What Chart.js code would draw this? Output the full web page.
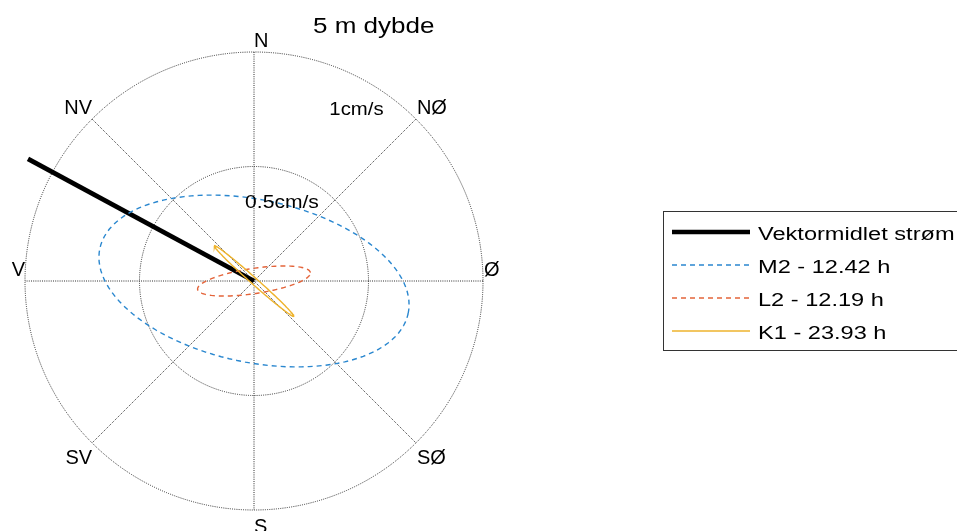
<!DOCTYPE html>
<html>
<head>
<meta charset="utf-8">
<script src="https://cdn.jsdelivr.net/npm/chart.js@4/dist/chart.umd.min.js"></script>
<style>
  html, body { margin: 0; padding: 0; background: #fff; }
</style>
</head>
<body>
<canvas id="chart" width="957" height="531"></canvas>
<script>
const titleText = "5 m dybde";
const seriesLabels = ["Vektormidlet strøm", "M2 - 12.42 h", "L2 - 12.19 h", "K1 - 23.93 h"];
// mean current vector (cm/s), east and north component
const meanEast = [0, -0.987];
const meanNorth = [0, 0.533];
// tidal ellipses: M2, L2, K1 (cm/s and degrees from east)
const semiMajor = [0.688, 0.249, 0.232];
const semiMinor = [0.355, 0.055, 0.014];
const inclination = [-11.9, 8.5, -41.6];
// grid
const ringValues = [0.5, 1];
const ringLabels = ["0.5cm/s", "1cm/s"];
const dirLabels = ["Ø", "NØ", "N", "NV", "V", "SV", "S", "SØ"];
const dirAngles = [0, 45, 90, 135, 180, 225, 270, 315];

const colors = ["#000000", "#2a87cf", "#e4643a", "#eeb32c"];
const FONT = '"Liberation Sans", Arial, sans-serif';

function ellipsePoints(a, b, incDeg) {
  var th = incDeg * Math.PI / 180;
  var pts = [];
  for (var k = 0; k <= 120; k++) {
    var t = k / 120 * 2 * Math.PI;
    var x = a * Math.cos(t), y = b * Math.sin(t);
    pts.push({ x: x * Math.cos(th) - y * Math.sin(th), y: x * Math.sin(th) + y * Math.cos(th) });
  }
  return pts;
}

// draw text, optionally stretched horizontally
function txt(ctx, s, x, y, size, sx, align) {
  ctx.save();
  ctx.font = size + "px " + FONT;
  ctx.fillStyle = "#000";
  ctx.textBaseline = "alphabetic";
  var w = ctx.measureText(s).width * sx;
  var left = align === "right" ? x - w : align === "center" ? x - w / 2 : x;
  ctx.translate(left, y);
  ctx.scale(sx, 1);
  ctx.textAlign = "left";
  ctx.fillText(s, 0, 0);
  ctx.restore();
}

const gridPlugin = {
  id: "polarGrid",
  beforeDatasetsDraw(chart) {
    var ctx = chart.ctx, xs = chart.scales.x, ys = chart.scales.y;
    var cx = xs.getPixelForValue(0), cy = ys.getPixelForValue(0);
    ctx.save();
    ctx.strokeStyle = "#2e2e2e";
    ctx.lineWidth = 1;
    ctx.setLineDash([1, 1.2]);
    ringValues.forEach(function (r) {
      ctx.beginPath();
      ctx.ellipse(cx, cy, xs.getPixelForValue(r) - cx, cy - ys.getPixelForValue(r), 0, 0, 2 * Math.PI);
      ctx.stroke();
    });
    var rMax = ringValues[ringValues.length - 1];
    for (var i = 0; i < 4; i++) {
      var a = dirAngles[i] * Math.PI / 180;
      ctx.beginPath();
      ctx.moveTo(xs.getPixelForValue(rMax * Math.cos(a)), ys.getPixelForValue(rMax * Math.sin(a)));
      ctx.lineTo(xs.getPixelForValue(-rMax * Math.cos(a)), ys.getPixelForValue(-rMax * Math.sin(a)));
      ctx.stroke();
    }
    ctx.restore();
  },
  afterDraw(chart) {
    var ctx = chart.ctx, xs = chart.scales.x, ys = chart.scales.y;
    var rMax = ringValues[ringValues.length - 1];
    // compass labels
    dirLabels.forEach(function (lab, i) {
      var a = dirAngles[i] * Math.PI / 180;
      var px = xs.getPixelForValue(rMax * Math.cos(a));
      var py = ys.getPixelForValue(rMax * Math.sin(a));
      var c = Math.round(Math.cos(a) * 100) / 100, s = Math.round(Math.sin(a) * 100) / 100;
      var align = c < -0.1 ? "right" : "left";
      var bx = c > 0.5 ? px + 1 : c < 0 && c > -0.5 ? px - 2 : px;
      var by = s < 0 ? py + (s < -0.9 ? 23 : 21) : py - 5;
      txt(ctx, lab, bx, by, 20, 1.0, align);
    });
    // ring labels
    txt(ctx, ringLabels[0], xs.getPixelForValue(-0.039), ys.getPixelForValue(0.319), 18.5, 1.14, "left");
    txt(ctx, ringLabels[1], xs.getPixelForValue(0.329), ys.getPixelForValue(0.725), 18.5, 1.1, "left");
    // title
    txt(ctx, titleText, 313, 33, 21.5, 1.21, "left");
    // legend
    ctx.save();
    ctx.fillStyle = "#fff";
    ctx.fillRect(663.5, 211.5, 400, 139);
    ctx.strokeStyle = "#333";
    ctx.lineWidth = 1;
    ctx.strokeRect(663.5, 211.5, 400, 139);
    var rows = [232, 265, 298, 331];
    chart.data.datasets.forEach(function (ds, i) {
      ctx.save();
      ctx.strokeStyle = ds.borderColor;
      ctx.lineWidth = i === 0 ? 4.5 : 1.3;
      ctx.setLineDash(ds.borderDash || []);
      ctx.beginPath();
      ctx.moveTo(672, rows[i]);
      ctx.lineTo(750, rows[i]);
      ctx.stroke();
      ctx.restore();
      txt(ctx, ds.label, 758, rows[i] + 8, 18, 1.31, "left");
    });
    ctx.restore();
  }
};

const datasets = [
  {
    label: seriesLabels[0],
    data: meanEast.map(function (e, i) { return { x: e, y: meanNorth[i] }; }),
    borderColor: colors[0], borderWidth: 4.8, order: 4
  }
];
for (var i = 0; i < semiMajor.length; i++) {
  datasets.push({
    label: seriesLabels[i + 1],
    data: ellipsePoints(semiMajor[i], semiMinor[i], inclination[i]),
    borderColor: colors[i + 1],
    borderWidth: 1.4,
    borderDash: i < 2 ? [5, 4] : undefined,
    order: 3 - i
  });
}
datasets.forEach(function (d) {
  d.showLine = true; d.pointRadius = 0; d.fill = false; d.tension = 0; d.clip = false;
});

new Chart(document.getElementById("chart"), {
  type: "scatter",
  data: { datasets: datasets },
  options: {
    responsive: false,
    animation: false,
    layout: { padding: { left: 25, right: 474, top: 52, bottom: 21 } },
    scales: {
      x: { type: "linear", min: -1, max: 1, display: false },
      y: { type: "linear", min: -1, max: 1, display: false }
    },
    plugins: { legend: { display: false }, tooltip: { enabled: false } }
  },
  plugins: [gridPlugin]
});
</script>
</body>
</html>
